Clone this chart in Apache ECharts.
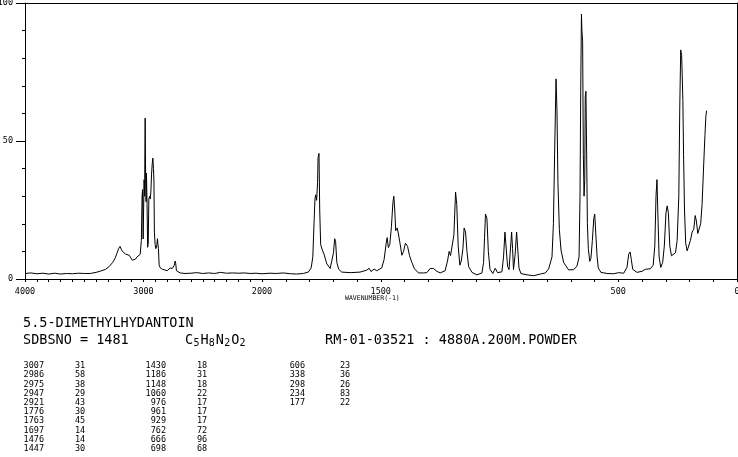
<!DOCTYPE html>
<html><head><meta charset="utf-8">
<script src="https://cdn.jsdelivr.net/npm/echarts@6/dist/echarts.min.js"></script>
<style>html,body{margin:0;padding:0;background:#fff}#c{width:738px;height:457px}</style>
</head><body><div id="c"></div>
<script>
// ---- spectrum (wavenumber, relative intensity) ----
const wavenumbers = [
 4000,3950,3900,3850,3800,3750,3700,3650,3600,3550,3500,3450,3400,3360,3320,3290,3260,3240,3225,3210,
 3198,3188,3178,3165,3150,3135,3120,3105,3095,3080,3068,3055,3040,3028,3018,3012,3008,3003,2999,2995,
 2991,2986,2982,2978,2975,2970,2965,2960,2955,2950,2947,2943,2938,2932,2926,2921,2916,2912,2908,2902,
 2896,2888,2882,2878,2874,2868,2858,2840,2820,2800,2785,2775,2765,2757,2748,2740,2733,2728,2722,2710,
 2690,2650,2600,2550,2500,2450,2400,2350,2300,2250,2200,2150,2100,2050,2000,
 1994,1966,1940,1910,1880,1854,1826,1805,1793,1786,1781,1777,1774,1770,1766,1764,1760,1757,1753,1746,
 1739,1727,1713,1705,1699,1694,1690,1685,1677,1664,1629,1587,1559,1549,1541,1528,1517,1496,1486,1477,
 1473,1468,1462,1455,1449,1445,1441,1437,1431,1427,1420,1411,1404,1396,1387,1379,1369,1358,1341,1320,
 1306,1292,1278,1264,1250,1229,1219,1212,1206,1199,1192,1185,1180,1174,1167,1161,1154,1149,1143,1137,
 1130,1116,1095,1074,1067,1063,1059,1053,1047,1040,1028,1018,1008,990,983,977,972,966,960,955,
 949,945,941,934,928,924,918,910,884,856,828,807,793,779,773,768,762,758,754,748,
 741,730,709,688,674,665,661,658,655,653,650,647,644,641,639,636,633,630,626,620,
 615,609,603,599,595,589,584,573,547,519,498,477,463,456,450,445,439,421,400,386,
 365,353,346,341,337,332,328,321,313,306,299,294,289,283,276,268,259,252,245,241,
 237,233,228,225,221,216,210,203,196,189,182,176,171,165,158,153,147,140,135,131,128
];
const intensities = [
 2.0,2.2,1.9,2.1,1.8,2.1,1.8,2.0,1.9,2.1,2.0,2.0,2.4,2.9,3.5,4.5,6.0,7.5,9.2,11.0,
 11.8,10.8,10.0,9.4,9.0,8.8,8.6,8.0,6.8,6.6,7.2,8.0,8.6,8.9,14.0,30.0,32.4,14.5,14.0,36.0,
 30.0,58.3,36.0,28.0,38.4,27.0,11.5,13.0,29.0,28.5,30.0,29.0,31.5,38.0,42.0,43.8,40.0,35.5,17.0,12.5,
 11.0,12.0,14.6,12.5,11.0,5.0,4.0,3.5,3.3,3.0,3.0,4.0,4.6,3.8,3.6,5.0,6.5,5.6,3.0,2.5,
 2.2,2.0,2.1,2.3,2.0,2.2,2.0,2.4,2.1,2.2,2.1,2.2,2.0,2.1,1.9,
 1.5,2.1,2.0,2.2,1.9,1.8,2.0,2.5,4.0,8.0,20.0,29.0,30.5,28.5,35.0,44.0,45.5,25.0,12.5,10.5,
 9.0,5.5,3.8,4.5,9.5,14.6,13.5,6.0,3.5,2.5,2.3,2.5,3.2,3.9,2.7,3.6,3.0,4.0,7.0,13.0,
 15.0,11.4,12.5,19.0,27.5,30.0,25.0,17.5,18.5,17.0,13.5,8.6,10.0,13.0,11.8,8.5,6.0,3.7,2.2,2.2,
 2.3,3.8,3.8,2.8,2.2,3.0,6.5,10.0,8.5,8.5,16.0,31.5,27.0,12.0,5.0,6.5,11.0,18.5,17.0,10.0,
 4.5,2.4,1.5,2.2,6.0,15.0,23.5,22.0,10.0,3.5,2.0,3.9,2.3,2.6,8.0,17.0,16.5,4.6,3.4,9.5,
 17.0,11.0,3.4,9.0,17.0,12.0,4.0,2.0,1.5,1.2,1.8,2.2,3.7,8.0,20.0,45.0,72.5,61.0,35.0,18.0,
 10.5,6.0,3.3,3.4,4.6,8.0,30.0,68.0,96.0,90.0,86.0,45.0,30.0,36.0,66.0,68.0,45.0,20.0,11.0,6.4,
 7.5,14.0,22.0,23.5,17.0,8.0,4.0,2.4,2.0,1.9,2.3,2.1,4.3,9.0,9.8,7.0,3.5,2.4,2.8,3.5,
 3.7,5.0,12.0,30.0,36.0,20.0,8.0,4.2,6.0,12.0,24.0,26.5,24.0,12.0,8.4,8.2,9.5,14.0,30.0,62.0,
 83.0,81.0,65.0,45.0,25.0,13.0,10.2,10.2,14.0,17.0,18.0,23.0,21.0,16.5,16.5,20.0,27.0,42.0,52.0,59.0,61.0
];

// ---- axis labels ----
const xTickLabelsHigh = [4000, 3000, 2000];
const xTickLabelsLow = [1500, 500, 0];
const yTickLabels = [0, 50, 100];
const xAxisTitle = "WAVENUMBER(-1)";

// ---- header text ----
const compoundName = "5.5-DIMETHYLHYDANTOIN";
const sdbsLine = "SDBSNO = 1481";
const formulaParts = [["C",0],["5",1],["H",0],["8",1],["N",0],["2",1],["O",0],["2",1]];
const measurementLine = "RM-01-03521 : 4880A.200M.POWDER";

// ---- peak table ----
const peakWavenumbers = ["3007","2986","2975","2947","2921","1776","1763","1697","1476","1447",
                         "1430","1186","1148","1060","976","961","929","762","666","698",
                         "606","338","298","234","177"];
const peakIntensities = ["31","58","38","29","43","30","45","14","14","30",
                         "18","31","18","22","17","17","17","72","96","68",
                         "23","36","26","83","22"];

const MONO = '"DejaVu Sans Mono", monospace';
const pts = wavenumbers.map((w, i) => [w, intensities[i]]);
const highPts = pts.filter(p => p[0] >= 2000);
const lowPts = pts.filter(p => p[0] <= 2000);

const graphics = [];
function txt(s, x, y, size, align) {
  graphics.push({type:'text', silent:true, style:{text:s, x:x, y:y, font: size + 'px ' + MONO,
    fill:'#000', align: align || 'left', textAlign: align || 'left', verticalAlign:'middle', textVerticalAlign:'middle'}});
}
txt(compoundName, 23, 323, 13.5);
txt(sdbsLine, 23, 340, 13.5);
let fx = 185;
formulaParts.forEach(([c, sub]) => {
  if (sub) { txt(c, fx, 343, 10); fx += 7; }
  else { txt(c, fx, 340, 13.5); fx += 8.4; }
});
txt(measurementLine, 325, 340, 13.5);
txt(xAxisTitle, 345, 298, 6.5);

const colWnRight = [44, 166, 305];
const colIntLeft = [75, 197, 340];
peakWavenumbers.forEach((w, i) => {
  const g = Math.floor(i / 10), r = i % 10;
  const y = 366 + r * 9.2;
  txt(w, colWnRight[g], y, 8.5, 'right');
  txt(peakIntensities[i], colIntLeft[g], y, 8.5, 'left');
});

const black = {color:'#000', width:1};
const lblStyle = {color:'#000', fontFamily: MONO, fontSize: 8.5};
const noZeroLine = {onZero:false, lineStyle:black};
const chart = echarts.init(document.getElementById('c'), null, {renderer:'canvas'});
chart.setOption({
  animation:false,
  backgroundColor:'#fff',
  grid:[{left:25, top:3, width:237, height:276, containLabel:false, outerBoundsMode:'none'},
        {left:262, top:3, width:475, height:276, containLabel:false, outerBoundsMode:'none'}],
  xAxis:[
    {gridIndex:0, type:'value', position:'bottom', min:2000, max:4000, inverse:true, interval:100,
     axisLine:noZeroLine, axisTick:{length:3, lineStyle:black}, splitLine:{show:false},
     axisLabel:Object.assign({margin:8, showMinLabel:true, showMaxLabel:true,
       formatter: v => xTickLabelsHigh.includes(v) ? String(v) : ''}, lblStyle)},
    {gridIndex:1, type:'value', position:'bottom', min:0, max:2000, inverse:true, interval:100,
     axisLine:noZeroLine, axisTick:{length:3, lineStyle:black}, splitLine:{show:false},
     axisLabel:Object.assign({margin:8,
       formatter: v => xTickLabelsLow.includes(v) ? String(v) : ''}, lblStyle)},
    {gridIndex:0, type:'value', position:'top', min:2000, max:4000, inverse:true,
     axisLine:noZeroLine, axisTick:{show:false}, axisLabel:{show:false}, splitLine:{show:false}},
    {gridIndex:1, type:'value', position:'top', min:0, max:2000, inverse:true,
     axisLine:noZeroLine, axisTick:{show:false}, axisLabel:{show:false}, splitLine:{show:false}}
  ],
  yAxis:[
    {gridIndex:0, type:'value', position:'left', min:0, max:100, interval:10,
     axisLine:{show:true, onZero:false, lineStyle:black}, axisTick:{length:3, lineStyle:black},
     axisLabel:{show:false}, splitLine:{show:false}},
    {gridIndex:0, type:'value', position:'left', offset:0, min:0, max:100, interval:50,
     axisLine:{show:false, onZero:false}, axisTick:{length:9, lineStyle:black}, splitLine:{show:false},
     axisLabel:Object.assign({margin:12, formatter: v => yTickLabels.includes(v) ? String(v) : ''}, lblStyle)},
    {gridIndex:1, type:'value', position:'right', min:0, max:100,
     axisLine:{show:true, onZero:false, lineStyle:black}, axisTick:{show:false}, axisLabel:{show:false}, splitLine:{show:false}}
  ],
  series:[
    {type:'line', xAxisIndex:0, yAxisIndex:0, data:highPts, showSymbol:false, silent:true,
     lineStyle:{color:'#000', width:1}},
    {type:'line', xAxisIndex:1, yAxisIndex:2, data:lowPts, showSymbol:false, silent:true,
     lineStyle:{color:'#000', width:1}}
  ],
  graphic: graphics
});
</script></body></html>
